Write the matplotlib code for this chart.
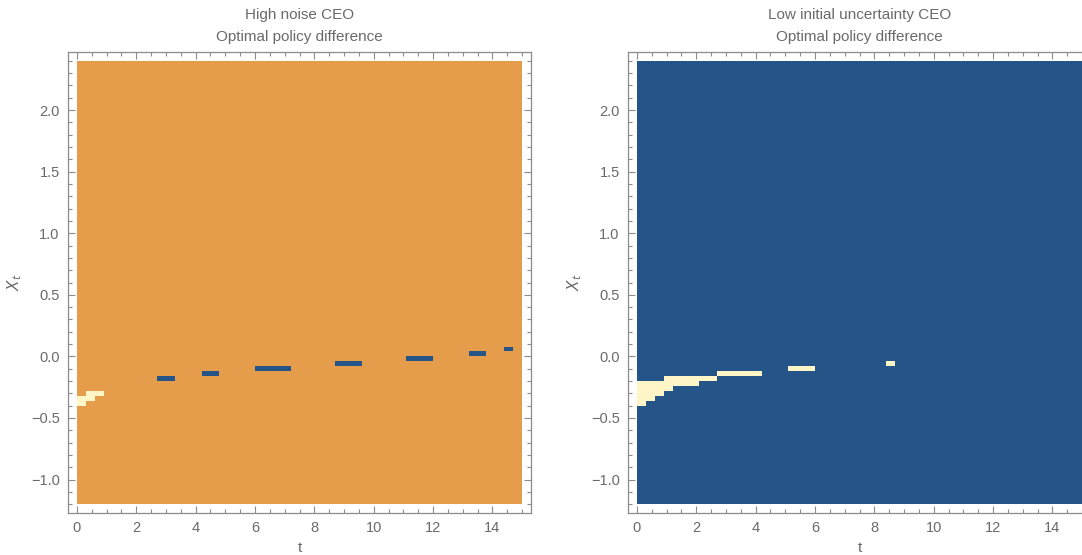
import numpy as np
import matplotlib.pyplot as plt
from matplotlib.colors import ListedColormap, BoundaryNorm
from matplotlib.ticker import MultipleLocator

# grid of the policy computation
t_edges = np.linspace(0, 15, 51)       # dt = 0.3
x_edges = np.linspace(-1.2, 2.4, 91)   # dX = 0.04
dx = 0.04

# left panel: cells where the policy differs (lower edge of X row, t start, t end)
left_cream_x = [-0.40, -0.36, -0.32]
left_cream_t0 = [0.0, 0.0, 0.3]
left_cream_t1 = [0.3, 0.6, 0.9]

left_blue_x = [-0.20, -0.16, -0.12, -0.08, -0.04, 0.00, 0.04]
left_blue_t0 = [2.7, 4.2, 6.0, 8.7, 11.1, 13.2, 14.4]
left_blue_t1 = [3.3, 4.8, 7.2, 9.6, 12.0, 13.8, 14.7]

# right panel
right_cream_x = [-0.40, -0.36, -0.32, -0.28, -0.24, -0.20, -0.16, -0.12, -0.08]
right_cream_t0 = [0.0, 0.0, 0.0, 0.0, 0.0, 0.9, 2.7, 5.1, 8.4]
right_cream_t1 = [0.3, 0.6, 0.9, 1.2, 2.1, 2.7, 4.2, 6.0, 8.7]

titles = ["High noise CEO\nOptimal policy difference",
          "Low initial uncertainty CEO\nOptimal policy difference"]

ORANGE = "#e59d4b"
BLUE = "#255489"
CREAM = "#fff5c6"
GRAY = "#8c8c8c"
TXT = "#6a6a6a"

tc = (t_edges[:-1] + t_edges[1:]) / 2
xc = (x_edges[:-1] + x_edges[1:]) / 2


def fill(z, xs, t0s, t1s, code):
    for x0, a, b in zip(xs, t0s, t1s):
        rows = (xc > x0) & (xc < x0 + dx)
        cols = (tc > a) & (tc < b)
        z[np.ix_(rows, cols)] = code


z_left = np.zeros((len(xc), len(tc)))
fill(z_left, left_blue_x, left_blue_t0, left_blue_t1, 1)
fill(z_left, left_cream_x, left_cream_t0, left_cream_t1, 2)

z_right = np.ones((len(xc), len(tc)))
fill(z_right, right_cream_x, right_cream_t0, right_cream_t1, 2)

cmap = ListedColormap([ORANGE, BLUE, CREAM])
norm = BoundaryNorm([-0.5, 0.5, 1.5, 2.5], 3)

plt.rcParams['font.family'] = ['Liberation Sans', 'DejaVu Sans']
fig = plt.figure(figsize=(10.82, 5.55), dpi=100)
ax1 = fig.add_axes([68 / 1082, 42 / 555, 463 / 1082, 461 / 555])
ax2 = fig.add_axes([628 / 1082, 42 / 555, 463 / 1082, 461 / 555])

for ax, z, title in zip([ax1, ax2], [z_left, z_right], titles):
    ax.pcolormesh(t_edges, x_edges, z, cmap=cmap, norm=norm,
                  edgecolors='none', linewidth=0, antialiased=False)
    ax.set_xlim(-0.3, 15.3)
    ax.set_ylim(-1.272, 2.472)
    ax.xaxis.set_major_locator(MultipleLocator(2))
    ax.xaxis.set_minor_locator(MultipleLocator(0.5))
    ax.yaxis.set_major_locator(MultipleLocator(0.5))
    ax.yaxis.set_minor_locator(MultipleLocator(0.1))
    ax.tick_params(which='both', direction='in', top=True, right=True,
                   color=GRAY, labelcolor=TXT, labelsize=10.5, width=0.8)
    ax.tick_params(which='major', length=5, pad=6)
    ax.tick_params(which='minor', length=2.8)
    ax.yaxis.set_major_formatter(lambda v, p: f"{v:.1f}".replace("-", "\u2212"))
    for s in ax.spines.values():
        s.set_color(GRAY)
        s.set_linewidth(0.9)
    ax.set_title(title, color=TXT, fontsize=11, pad=8, linespacing=1.7)
    ax.set_xlabel("t", color=TXT, fontsize=11, labelpad=4)
    ax.set_ylabel("$X_t$", color=TXT, fontsize=11, labelpad=5)

fig.savefig("out.png", dpi=100)
